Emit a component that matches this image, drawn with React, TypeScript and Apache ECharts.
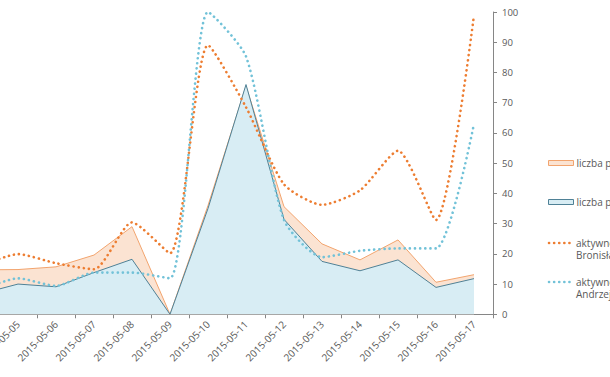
import React, { useEffect, useRef } from "react";
import * as echarts from "echarts";

const categories = [
  "2015-05-04", "2015-05-05", "2015-05-06", "2015-05-07", "2015-05-08", "2015-05-09", "2015-05-10",
  "2015-05-11", "2015-05-12", "2015-05-13", "2015-05-14", "2015-05-15", "2015-05-16", "2015-05-17",
];
const postsBK = [14.7, 14.8, 15.7, 19.6, 29.0, 0, 36, 75.5, 35.6, 23.3, 18.0, 24.6, 10.6, 13.1];
const postsAD = [6.7, 10.0, 9.1, 13.8, 18.2, 0, 35, 76, 31.4, 17.5, 14.4, 18.0, 8.9, 11.8];
const activityBK = [16, 19.9, 16.9, 14.9, 30.4, 20.2, 89, 68.5, 43, 36.2, 41, 54.1, 31.2, 99];
const activityAD = [8, 11.9, 9.4, 13.8, 13.8, 11.9, 100, 85.3, 31.2, 18.9, 21.0, 21.8, 21.8, 63];
const yTicks = { min: 0, max: 100, interval: 10 };

const NAME_PBK = "liczba postów Bronisław Komorowski";
const NAME_PAD = "liczba postów Andrzej Duda";
const NAME_ABK = "aktywność Bronisław Komorowski";
const NAME_AAD = "aktywność Andrzej Duda";
const legendLabels: Record<string, string> = {
  [NAME_PBK]: NAME_PBK,
  [NAME_PAD]: NAME_PAD,
  [NAME_ABK]: "aktywność\nBronisław Komorowski",
  [NAME_AAD]: "aktywność\nAndrzej Duda",
};

const FONT = "Open Sans";
const TXT = "#595959";
const AXIS = "#868686";
const ORANGE = "#ED7D31";
const CYAN = "#72C2D8";
const SHIFT = 39; // the chart is cropped on the left in the reference

export default function App() {
  const ref = useRef<HTMLDivElement>(null);
  useEffect(() => {
    if (!ref.current) return;
    const chart = echarts.init(ref.current, null, { renderer: "svg" });
    const dotted = (color: string) => ({
      color,
      width: 2.6,
      type: [0.1, 5] as any,
      cap: "round" as const,
    });
    const legendBase = {
      left: 548 + SHIFT,
      padding: 0,
      itemWidth: 25,
      itemHeight: 5,
      itemGap: 4,
      textStyle: { fontFamily: FONT, fontSize: 10, color: TXT, lineHeight: 12, padding: [0, 0, 0, -2] },
      selectedMode: false,
      formatter: (name: string) => legendLabels[name] ?? name,
    };
    const dotIcon = (y: number, color: string) => ({
      type: "line",
      shape: { x1: 549 + SHIFT, y1: y, x2: 573 + SHIFT, y2: y },
      style: { stroke: color, lineWidth: 2.6, lineDash: [0.1, 5], lineCap: "round" },
      z: 100,
    });
    chart.setOption({
      animation: false,
      backgroundColor: "#ffffff",
      grid: { left: 0, right: 117, top: 12, bottom: 62.7, containLabel: false, outerBoundsMode: "none" },
      xAxis: {
        type: "category",
        data: categories,
        boundaryGap: true,
        axisLine: { show: true, lineStyle: { color: AXIS, width: 1 } },
        axisTick: { show: true, length: 4, interval: 0, lineStyle: { color: AXIS } },
        axisLabel: {
          interval: 0,
          rotate: 45,
          margin: 8,
          fontFamily: FONT,
          fontSize: 10,
          color: TXT,
        },
        splitLine: { show: false },
      },
      yAxis: {
        type: "value",
        position: "right",
        min: yTicks.min,
        max: yTicks.max,
        interval: yTicks.interval,
        axisLine: { show: true, lineStyle: { color: AXIS, width: 1 } },
        axisTick: { show: true, length: 4, inside: false, lineStyle: { color: AXIS } },
        axisLabel: { margin: 9, fontFamily: FONT, fontSize: 9.5, color: TXT },
        splitLine: { show: false },
      },
      legend: [
        {
          ...legendBase,
          top: 157,
          data: [{ name: NAME_PBK, icon: "rect", itemStyle: { color: "#FBE3D2", borderColor: "#F2A46E", borderWidth: 1 } }],
        },
        {
          ...legendBase,
          top: 196,
          data: [{ name: NAME_PAD, icon: "rect", itemStyle: { color: "#D8EDF4", borderColor: "#4F8196", borderWidth: 1 } }],
        },
        {
          ...legendBase,
          top: 237,
          data: [{ name: NAME_ABK, icon: "rect", itemStyle: { color: "rgba(0,0,0,0)", borderWidth: 0 } }],
        },
        {
          ...legendBase,
          top: 276,
          data: [{ name: NAME_AAD, icon: "rect", itemStyle: { color: "rgba(0,0,0,0)", borderWidth: 0 } }],
        },
      ],
      graphic: [dotIcon(243, ORANGE), dotIcon(282, CYAN)],
      series: [
        {
          name: NAME_PBK,
          type: "line",
          data: postsBK,
          symbol: "none",
          z: 1,
          lineStyle: { color: "#F2A46E", width: 1 },
          itemStyle: { color: "#FBE3D2" },
          areaStyle: { color: "#FBE3D2", opacity: 1 },
        },
        {
          name: NAME_PAD,
          type: "line",
          data: postsAD,
          symbol: "none",
          z: 2,
          lineStyle: { color: "#4F8196", width: 1 },
          itemStyle: { color: "#D8EDF4" },
          areaStyle: { color: "#D8EDF4", opacity: 1 },
        },
        {
          name: NAME_ABK,
          type: "line",
          data: activityBK,
          symbol: "none",
          showSymbol: false,
          smooth: 0.22,
          z: 3,
          itemStyle: { color: ORANGE },
          lineStyle: dotted(ORANGE),
        },
        {
          name: NAME_AAD,
          type: "line",
          data: activityAD,
          symbol: "none",
          showSymbol: false,
          smooth: 0.22,
          z: 4,
          itemStyle: { color: CYAN },
          lineStyle: dotted(CYAN),
        },
      ],
    });
    return () => chart.dispose();
  }, []);
  return (
    <div
      ref={ref}
      style={{ position: "absolute", left: -SHIFT, top: 0, width: 610 + SHIFT, height: 377, overflow: "hidden" }}
    />
  );
}
